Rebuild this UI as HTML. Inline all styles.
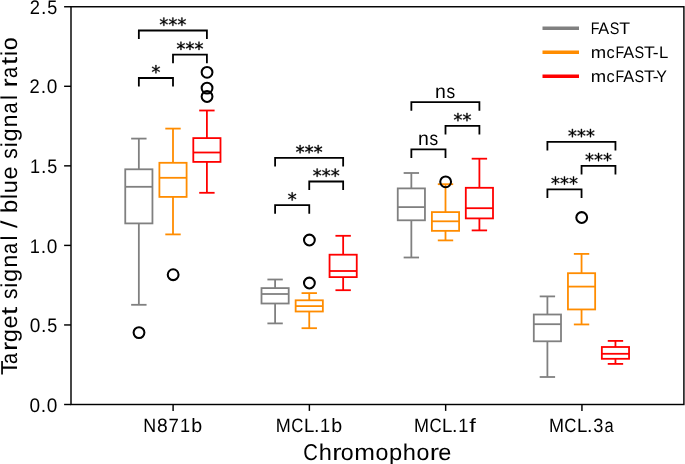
<!DOCTYPE html>
<html><head><meta charset="utf-8"><style>
html,body{margin:0;padding:0;background:#fff;}
svg{display:block;will-change:transform;}
text{font-family:"Liberation Sans",sans-serif;fill:#000;text-rendering:geometricPrecision;}
</style></head><body>
<svg width="685" height="464" viewBox="0 0 685 464">
<rect width="685" height="464" fill="#fff"/>
<line x1="64.10" y1="404.50" x2="71.00" y2="404.50" stroke="#000" stroke-width="1.44" stroke-linecap="butt"/>
<text y="411.60" font-size="19.69"><tspan x="29.47" textLength="10.59" lengthAdjust="spacingAndGlyphs">0</tspan><tspan x="40.67" textLength="5.43" lengthAdjust="spacingAndGlyphs">.</tspan><tspan x="46.71" textLength="10.59" lengthAdjust="spacingAndGlyphs">0</tspan></text>
<line x1="64.10" y1="324.95" x2="71.00" y2="324.95" stroke="#000" stroke-width="1.44" stroke-linecap="butt"/>
<text y="332.05" font-size="19.69"><tspan x="29.85" textLength="10.59" lengthAdjust="spacingAndGlyphs">0</tspan><tspan x="41.04" textLength="5.43" lengthAdjust="spacingAndGlyphs">.</tspan><tspan x="47.31" textLength="9.99" lengthAdjust="spacingAndGlyphs">5</tspan></text>
<line x1="64.10" y1="245.40" x2="71.00" y2="245.40" stroke="#000" stroke-width="1.44" stroke-linecap="butt"/>
<text y="252.50" font-size="19.69"><tspan x="29.63" textLength="10.11" lengthAdjust="spacingAndGlyphs">1</tspan><tspan x="40.67" textLength="5.43" lengthAdjust="spacingAndGlyphs">.</tspan><tspan x="46.71" textLength="10.59" lengthAdjust="spacingAndGlyphs">0</tspan></text>
<line x1="64.10" y1="165.85" x2="71.00" y2="165.85" stroke="#000" stroke-width="1.44" stroke-linecap="butt"/>
<text y="172.95" font-size="19.69"><tspan x="30.01" textLength="10.11" lengthAdjust="spacingAndGlyphs">1</tspan><tspan x="41.04" textLength="5.43" lengthAdjust="spacingAndGlyphs">.</tspan><tspan x="47.31" textLength="9.99" lengthAdjust="spacingAndGlyphs">5</tspan></text>
<line x1="64.10" y1="86.30" x2="71.00" y2="86.30" stroke="#000" stroke-width="1.44" stroke-linecap="butt"/>
<text y="93.40" font-size="19.69"><tspan x="29.43" textLength="10.21" lengthAdjust="spacingAndGlyphs">2</tspan><tspan x="40.67" textLength="5.43" lengthAdjust="spacingAndGlyphs">.</tspan><tspan x="46.71" textLength="10.59" lengthAdjust="spacingAndGlyphs">0</tspan></text>
<line x1="64.10" y1="6.75" x2="71.00" y2="6.75" stroke="#000" stroke-width="1.44" stroke-linecap="butt"/>
<text y="13.85" font-size="19.69"><tspan x="29.81" textLength="10.21" lengthAdjust="spacingAndGlyphs">2</tspan><tspan x="41.04" textLength="5.43" lengthAdjust="spacingAndGlyphs">.</tspan><tspan x="47.31" textLength="9.99" lengthAdjust="spacingAndGlyphs">5</tspan></text>
<line x1="173.10" y1="404.50" x2="173.10" y2="410.90" stroke="#000" stroke-width="1.44" stroke-linecap="butt"/>
<text y="431.80" font-size="19.32"><tspan x="143.29" textLength="12.88" lengthAdjust="spacingAndGlyphs">N</tspan><tspan x="156.88" textLength="10.70" lengthAdjust="spacingAndGlyphs">8</tspan><tspan x="168.51" textLength="10.36" lengthAdjust="spacingAndGlyphs">7</tspan><tspan x="180.07" textLength="10.11" lengthAdjust="spacingAndGlyphs">1</tspan><tspan x="191.34" textLength="10.93" lengthAdjust="spacingAndGlyphs">b</tspan></text>
<line x1="309.38" y1="404.50" x2="309.38" y2="410.90" stroke="#000" stroke-width="1.44" stroke-linecap="butt"/>
<text y="431.80" font-size="19.32"><tspan x="275.81" textLength="15.00" lengthAdjust="spacingAndGlyphs">M</tspan><tspan x="291.26" textLength="12.11" lengthAdjust="spacingAndGlyphs">C</tspan><tspan x="303.95" textLength="10.33" lengthAdjust="spacingAndGlyphs">L</tspan><tspan x="313.91" textLength="5.43" lengthAdjust="spacingAndGlyphs">.</tspan><tspan x="320.11" textLength="10.11" lengthAdjust="spacingAndGlyphs">1</tspan><tspan x="331.37" textLength="10.93" lengthAdjust="spacingAndGlyphs">b</tspan></text>
<line x1="445.66" y1="404.50" x2="445.66" y2="410.90" stroke="#000" stroke-width="1.44" stroke-linecap="butt"/>
<text y="431.80" font-size="19.32"><tspan x="413.98" textLength="15.00" lengthAdjust="spacingAndGlyphs">M</tspan><tspan x="429.43" textLength="12.11" lengthAdjust="spacingAndGlyphs">C</tspan><tspan x="442.12" textLength="10.33" lengthAdjust="spacingAndGlyphs">L</tspan><tspan x="452.08" textLength="5.43" lengthAdjust="spacingAndGlyphs">.</tspan><tspan x="458.27" textLength="10.11" lengthAdjust="spacingAndGlyphs">1</tspan><tspan x="469.24" textLength="6.59" lengthAdjust="spacingAndGlyphs">f</tspan></text>
<line x1="581.94" y1="404.50" x2="581.94" y2="410.90" stroke="#000" stroke-width="1.44" stroke-linecap="butt"/>
<text y="431.80" font-size="19.32"><tspan x="548.89" textLength="15.00" lengthAdjust="spacingAndGlyphs">M</tspan><tspan x="564.34" textLength="12.11" lengthAdjust="spacingAndGlyphs">C</tspan><tspan x="577.04" textLength="10.33" lengthAdjust="spacingAndGlyphs">L</tspan><tspan x="587.00" textLength="5.43" lengthAdjust="spacingAndGlyphs">.</tspan><tspan x="593.27" textLength="10.17" lengthAdjust="spacingAndGlyphs">3</tspan><tspan x="604.42" textLength="9.14" lengthAdjust="spacingAndGlyphs">a</tspan></text>
<text y="459.70" font-size="22.89"><tspan x="303.30" textLength="14.61" lengthAdjust="spacingAndGlyphs">C</tspan><tspan x="318.67" textLength="13.16" lengthAdjust="spacingAndGlyphs">h</tspan><tspan x="332.27" textLength="9.30" lengthAdjust="spacingAndGlyphs">r</tspan><tspan x="340.86" textLength="12.89" lengthAdjust="spacingAndGlyphs">o</tspan><tspan x="354.30" textLength="20.69" lengthAdjust="spacingAndGlyphs">m</tspan><tspan x="375.43" textLength="12.89" lengthAdjust="spacingAndGlyphs">o</tspan><tspan x="388.99" textLength="13.19" lengthAdjust="spacingAndGlyphs">p</tspan><tspan x="402.72" textLength="13.16" lengthAdjust="spacingAndGlyphs">h</tspan><tspan x="416.42" textLength="12.89" lengthAdjust="spacingAndGlyphs">o</tspan><tspan x="429.66" textLength="9.30" lengthAdjust="spacingAndGlyphs">r</tspan><tspan x="438.22" textLength="13.10" lengthAdjust="spacingAndGlyphs">e</tspan></text>
<text transform="translate(16.50,374.40) rotate(-90)" y="0" font-size="23.00"><tspan x="-0.54" textLength="14.59" lengthAdjust="spacingAndGlyphs">T</tspan><tspan x="10.30" textLength="10.95" lengthAdjust="spacingAndGlyphs">a</tspan><tspan x="23.36" textLength="9.34" lengthAdjust="spacingAndGlyphs">r</tspan><tspan x="32.06" textLength="13.24" lengthAdjust="spacingAndGlyphs">g</tspan><tspan x="45.96" textLength="13.16" lengthAdjust="spacingAndGlyphs">e</tspan><tspan x="59.38" textLength="8.13" lengthAdjust="spacingAndGlyphs">t</tspan><tspan x="67.82"> </tspan><tspan x="75.38" textLength="10.50" lengthAdjust="spacingAndGlyphs">s</tspan><tspan x="86.75" textLength="4.97" lengthAdjust="spacingAndGlyphs">i</tspan><tspan x="92.48" textLength="13.24" lengthAdjust="spacingAndGlyphs">g</tspan><tspan x="106.60" textLength="13.13" lengthAdjust="spacingAndGlyphs">n</tspan><tspan x="120.53" textLength="10.95" lengthAdjust="spacingAndGlyphs">a</tspan><tspan x="134.03" textLength="4.97" lengthAdjust="spacingAndGlyphs">l</tspan><tspan x="139.56"> </tspan><tspan x="146.52" textLength="7.38" lengthAdjust="spacingAndGlyphs">/</tspan><tspan x="153.90"> </tspan><tspan x="161.31" textLength="13.25" lengthAdjust="spacingAndGlyphs">b</tspan><tspan x="175.32" textLength="4.97" lengthAdjust="spacingAndGlyphs">l</tspan><tspan x="181.17" textLength="13.13" lengthAdjust="spacingAndGlyphs">u</tspan><tspan x="194.93" textLength="13.16" lengthAdjust="spacingAndGlyphs">e</tspan><tspan x="208.20"> </tspan><tspan x="215.76" textLength="10.50" lengthAdjust="spacingAndGlyphs">s</tspan><tspan x="227.14" textLength="4.97" lengthAdjust="spacingAndGlyphs">i</tspan><tspan x="232.86" textLength="13.24" lengthAdjust="spacingAndGlyphs">g</tspan><tspan x="246.98" textLength="13.13" lengthAdjust="spacingAndGlyphs">n</tspan><tspan x="260.92" textLength="10.95" lengthAdjust="spacingAndGlyphs">a</tspan><tspan x="274.41" textLength="4.97" lengthAdjust="spacingAndGlyphs">l</tspan><tspan x="279.94"> </tspan><tspan x="287.03" textLength="9.34" lengthAdjust="spacingAndGlyphs">r</tspan><tspan x="296.39" textLength="10.95" lengthAdjust="spacingAndGlyphs">a</tspan><tspan x="309.47" textLength="8.13" lengthAdjust="spacingAndGlyphs">t</tspan><tspan x="318.48" textLength="4.97" lengthAdjust="spacingAndGlyphs">i</tspan><tspan x="324.23" textLength="12.95" lengthAdjust="spacingAndGlyphs">o</tspan></text>
<line x1="138.85" y1="169.30" x2="138.85" y2="138.60" stroke="#808080" stroke-width="1.8" stroke-linecap="butt"/>
<line x1="138.85" y1="223.40" x2="138.85" y2="304.80" stroke="#808080" stroke-width="1.8" stroke-linecap="butt"/>
<line x1="132.05" y1="138.60" x2="145.65" y2="138.60" stroke="#808080" stroke-width="1.8" stroke-linecap="square"/>
<line x1="132.05" y1="304.80" x2="145.65" y2="304.80" stroke="#808080" stroke-width="1.8" stroke-linecap="square"/>
<rect x="125.25" y="169.30" width="27.20" height="54.10" fill="none" stroke="#808080" stroke-width="1.8"/>
<line x1="125.25" y1="186.80" x2="152.45" y2="186.80" stroke="#808080" stroke-width="1.8" stroke-linecap="butt"/>
<circle cx="139.00" cy="332.60" r="5.4" fill="none" stroke="#000" stroke-width="2.05"/>
<line x1="173.00" y1="162.80" x2="173.00" y2="128.60" stroke="#ff8c00" stroke-width="1.8" stroke-linecap="butt"/>
<line x1="173.00" y1="196.90" x2="173.00" y2="234.40" stroke="#ff8c00" stroke-width="1.8" stroke-linecap="butt"/>
<line x1="166.20" y1="128.60" x2="179.80" y2="128.60" stroke="#ff8c00" stroke-width="1.8" stroke-linecap="square"/>
<line x1="166.20" y1="234.40" x2="179.80" y2="234.40" stroke="#ff8c00" stroke-width="1.8" stroke-linecap="square"/>
<rect x="159.40" y="162.80" width="27.20" height="34.10" fill="none" stroke="#ff8c00" stroke-width="1.8"/>
<line x1="159.40" y1="177.80" x2="186.60" y2="177.80" stroke="#ff8c00" stroke-width="1.8" stroke-linecap="butt"/>
<circle cx="173.15" cy="274.70" r="5.4" fill="none" stroke="#000" stroke-width="2.05"/>
<line x1="206.90" y1="138.10" x2="206.90" y2="110.50" stroke="#ff0000" stroke-width="1.8" stroke-linecap="butt"/>
<line x1="206.90" y1="161.90" x2="206.90" y2="192.80" stroke="#ff0000" stroke-width="1.8" stroke-linecap="butt"/>
<line x1="200.10" y1="110.50" x2="213.70" y2="110.50" stroke="#ff0000" stroke-width="1.8" stroke-linecap="square"/>
<line x1="200.10" y1="192.80" x2="213.70" y2="192.80" stroke="#ff0000" stroke-width="1.8" stroke-linecap="square"/>
<rect x="193.30" y="138.10" width="27.20" height="23.80" fill="none" stroke="#ff0000" stroke-width="1.8"/>
<line x1="193.30" y1="152.50" x2="220.50" y2="152.50" stroke="#ff0000" stroke-width="1.8" stroke-linecap="butt"/>
<circle cx="207.05" cy="72.30" r="5.4" fill="none" stroke="#000" stroke-width="2.05"/>
<circle cx="207.05" cy="88.10" r="5.4" fill="none" stroke="#000" stroke-width="2.05"/>
<circle cx="207.05" cy="96.50" r="5.4" fill="none" stroke="#000" stroke-width="2.05"/>
<line x1="275.10" y1="288.10" x2="275.10" y2="279.50" stroke="#808080" stroke-width="1.8" stroke-linecap="butt"/>
<line x1="275.10" y1="303.50" x2="275.10" y2="323.40" stroke="#808080" stroke-width="1.8" stroke-linecap="butt"/>
<line x1="268.30" y1="279.50" x2="281.90" y2="279.50" stroke="#808080" stroke-width="1.8" stroke-linecap="square"/>
<line x1="268.30" y1="323.40" x2="281.90" y2="323.40" stroke="#808080" stroke-width="1.8" stroke-linecap="square"/>
<rect x="261.50" y="288.10" width="27.20" height="15.40" fill="none" stroke="#808080" stroke-width="1.8"/>
<line x1="261.50" y1="294.00" x2="288.70" y2="294.00" stroke="#808080" stroke-width="1.8" stroke-linecap="butt"/>
<line x1="309.25" y1="300.30" x2="309.25" y2="293.10" stroke="#ff8c00" stroke-width="1.8" stroke-linecap="butt"/>
<line x1="309.25" y1="311.50" x2="309.25" y2="328.20" stroke="#ff8c00" stroke-width="1.8" stroke-linecap="butt"/>
<line x1="302.45" y1="293.10" x2="316.05" y2="293.10" stroke="#ff8c00" stroke-width="1.8" stroke-linecap="square"/>
<line x1="302.45" y1="328.20" x2="316.05" y2="328.20" stroke="#ff8c00" stroke-width="1.8" stroke-linecap="square"/>
<rect x="295.65" y="300.30" width="27.20" height="11.20" fill="none" stroke="#ff8c00" stroke-width="1.8"/>
<line x1="295.65" y1="306.10" x2="322.85" y2="306.10" stroke="#ff8c00" stroke-width="1.8" stroke-linecap="butt"/>
<circle cx="309.40" cy="240.00" r="5.4" fill="none" stroke="#000" stroke-width="2.05"/>
<circle cx="309.40" cy="283.00" r="5.4" fill="none" stroke="#000" stroke-width="2.05"/>
<line x1="343.15" y1="254.70" x2="343.15" y2="235.80" stroke="#ff0000" stroke-width="1.8" stroke-linecap="butt"/>
<line x1="343.15" y1="277.10" x2="343.15" y2="290.20" stroke="#ff0000" stroke-width="1.8" stroke-linecap="butt"/>
<line x1="336.35" y1="235.80" x2="349.95" y2="235.80" stroke="#ff0000" stroke-width="1.8" stroke-linecap="square"/>
<line x1="336.35" y1="290.20" x2="349.95" y2="290.20" stroke="#ff0000" stroke-width="1.8" stroke-linecap="square"/>
<rect x="329.55" y="254.70" width="27.20" height="22.40" fill="none" stroke="#ff0000" stroke-width="1.8"/>
<line x1="329.55" y1="271.00" x2="356.75" y2="271.00" stroke="#ff0000" stroke-width="1.8" stroke-linecap="butt"/>
<line x1="411.35" y1="188.40" x2="411.35" y2="173.00" stroke="#808080" stroke-width="1.8" stroke-linecap="butt"/>
<line x1="411.35" y1="220.30" x2="411.35" y2="257.50" stroke="#808080" stroke-width="1.8" stroke-linecap="butt"/>
<line x1="404.55" y1="173.00" x2="418.15" y2="173.00" stroke="#808080" stroke-width="1.8" stroke-linecap="square"/>
<line x1="404.55" y1="257.50" x2="418.15" y2="257.50" stroke="#808080" stroke-width="1.8" stroke-linecap="square"/>
<rect x="397.75" y="188.40" width="27.20" height="31.90" fill="none" stroke="#808080" stroke-width="1.8"/>
<line x1="397.75" y1="207.10" x2="424.95" y2="207.10" stroke="#808080" stroke-width="1.8" stroke-linecap="butt"/>
<line x1="445.50" y1="212.10" x2="445.50" y2="184.20" stroke="#ff8c00" stroke-width="1.8" stroke-linecap="butt"/>
<line x1="445.50" y1="230.85" x2="445.50" y2="240.40" stroke="#ff8c00" stroke-width="1.8" stroke-linecap="butt"/>
<line x1="438.70" y1="184.20" x2="452.30" y2="184.20" stroke="#ff8c00" stroke-width="1.8" stroke-linecap="square"/>
<line x1="438.70" y1="240.40" x2="452.30" y2="240.40" stroke="#ff8c00" stroke-width="1.8" stroke-linecap="square"/>
<rect x="431.90" y="212.10" width="27.20" height="18.75" fill="none" stroke="#ff8c00" stroke-width="1.8"/>
<line x1="431.90" y1="221.30" x2="459.10" y2="221.30" stroke="#ff8c00" stroke-width="1.8" stroke-linecap="butt"/>
<circle cx="445.65" cy="181.80" r="5.4" fill="none" stroke="#000" stroke-width="2.05"/>
<line x1="479.40" y1="187.80" x2="479.40" y2="158.70" stroke="#ff0000" stroke-width="1.8" stroke-linecap="butt"/>
<line x1="479.40" y1="218.40" x2="479.40" y2="230.40" stroke="#ff0000" stroke-width="1.8" stroke-linecap="butt"/>
<line x1="472.60" y1="158.70" x2="486.20" y2="158.70" stroke="#ff0000" stroke-width="1.8" stroke-linecap="square"/>
<line x1="472.60" y1="230.40" x2="486.20" y2="230.40" stroke="#ff0000" stroke-width="1.8" stroke-linecap="square"/>
<rect x="465.80" y="187.80" width="27.20" height="30.60" fill="none" stroke="#ff0000" stroke-width="1.8"/>
<line x1="465.80" y1="208.20" x2="493.00" y2="208.20" stroke="#ff0000" stroke-width="1.8" stroke-linecap="butt"/>
<line x1="547.40" y1="314.50" x2="547.40" y2="296.40" stroke="#808080" stroke-width="1.8" stroke-linecap="butt"/>
<line x1="547.40" y1="341.30" x2="547.40" y2="377.00" stroke="#808080" stroke-width="1.8" stroke-linecap="butt"/>
<line x1="540.60" y1="296.40" x2="554.20" y2="296.40" stroke="#808080" stroke-width="1.8" stroke-linecap="square"/>
<line x1="540.60" y1="377.00" x2="554.20" y2="377.00" stroke="#808080" stroke-width="1.8" stroke-linecap="square"/>
<rect x="533.80" y="314.50" width="27.20" height="26.80" fill="none" stroke="#808080" stroke-width="1.8"/>
<line x1="533.80" y1="324.20" x2="561.00" y2="324.20" stroke="#808080" stroke-width="1.8" stroke-linecap="butt"/>
<line x1="581.55" y1="273.20" x2="581.55" y2="253.90" stroke="#ff8c00" stroke-width="1.8" stroke-linecap="butt"/>
<line x1="581.55" y1="309.45" x2="581.55" y2="324.45" stroke="#ff8c00" stroke-width="1.8" stroke-linecap="butt"/>
<line x1="574.75" y1="253.90" x2="588.35" y2="253.90" stroke="#ff8c00" stroke-width="1.8" stroke-linecap="square"/>
<line x1="574.75" y1="324.45" x2="588.35" y2="324.45" stroke="#ff8c00" stroke-width="1.8" stroke-linecap="square"/>
<rect x="567.95" y="273.20" width="27.20" height="36.25" fill="none" stroke="#ff8c00" stroke-width="1.8"/>
<line x1="567.95" y1="286.60" x2="595.15" y2="286.60" stroke="#ff8c00" stroke-width="1.8" stroke-linecap="butt"/>
<circle cx="581.70" cy="217.50" r="5.4" fill="none" stroke="#000" stroke-width="2.05"/>
<line x1="615.45" y1="347.00" x2="615.45" y2="340.90" stroke="#ff0000" stroke-width="1.8" stroke-linecap="butt"/>
<line x1="615.45" y1="358.80" x2="615.45" y2="363.90" stroke="#ff0000" stroke-width="1.8" stroke-linecap="butt"/>
<line x1="608.65" y1="340.90" x2="622.25" y2="340.90" stroke="#ff0000" stroke-width="1.8" stroke-linecap="square"/>
<line x1="608.65" y1="363.90" x2="622.25" y2="363.90" stroke="#ff0000" stroke-width="1.8" stroke-linecap="square"/>
<rect x="601.85" y="347.00" width="27.20" height="11.80" fill="none" stroke="#ff0000" stroke-width="1.8"/>
<line x1="601.85" y1="353.80" x2="629.05" y2="353.80" stroke="#ff0000" stroke-width="1.8" stroke-linecap="butt"/>
<path d="M138.85,86.60V78.00H173.00V86.60" fill="none" stroke="#000" stroke-width="1.8"/>
<path transform="translate(151.41,78.52) scale(0.00882,-0.00882)" d="M963 1247 604 1053 963 858 905 760 569 963V586H455V963L119 760L61 858L420 1053L61 1247L119 1346L455 1143V1520H569V1143L905 1346Z" stroke="#000" stroke-width="40"/>
<path d="M173.00,63.20V54.60H206.90V63.20" fill="none" stroke="#000" stroke-width="1.8"/>
<path transform="translate(176.41,55.12) scale(0.00882,-0.00882)" d="M963 1247 604 1053 963 858 905 760 569 963V586H455V963L119 760L61 858L420 1053L61 1247L119 1346L455 1143V1520H569V1143L905 1346Z" stroke="#000" stroke-width="40"/>
<path transform="translate(185.44,55.12) scale(0.00882,-0.00882)" d="M963 1247 604 1053 963 858 905 760 569 963V586H455V963L119 760L61 858L420 1053L61 1247L119 1346L455 1143V1520H569V1143L905 1346Z" stroke="#000" stroke-width="40"/>
<path transform="translate(194.47,55.12) scale(0.00882,-0.00882)" d="M963 1247 604 1053 963 858 905 760 569 963V586H455V963L119 760L61 858L420 1053L61 1247L119 1346L455 1143V1520H569V1143L905 1346Z" stroke="#000" stroke-width="40"/>
<path d="M138.85,39.10V30.50H206.90V39.10" fill="none" stroke="#000" stroke-width="1.8"/>
<path transform="translate(159.33,31.02) scale(0.00882,-0.00882)" d="M963 1247 604 1053 963 858 905 760 569 963V586H455V963L119 760L61 858L420 1053L61 1247L119 1346L455 1143V1520H569V1143L905 1346Z" stroke="#000" stroke-width="40"/>
<path transform="translate(168.36,31.02) scale(0.00882,-0.00882)" d="M963 1247 604 1053 963 858 905 760 569 963V586H455V963L119 760L61 858L420 1053L61 1247L119 1346L455 1143V1520H569V1143L905 1346Z" stroke="#000" stroke-width="40"/>
<path transform="translate(177.39,31.02) scale(0.00882,-0.00882)" d="M963 1247 604 1053 963 858 905 760 569 963V586H455V963L119 760L61 858L420 1053L61 1247L119 1346L455 1143V1520H569V1143L905 1346Z" stroke="#000" stroke-width="40"/>
<path d="M275.10,213.80V205.20H309.25V213.80" fill="none" stroke="#000" stroke-width="1.8"/>
<path transform="translate(287.66,205.72) scale(0.00882,-0.00882)" d="M963 1247 604 1053 963 858 905 760 569 963V586H455V963L119 760L61 858L420 1053L61 1247L119 1346L455 1143V1520H569V1143L905 1346Z" stroke="#000" stroke-width="40"/>
<path d="M309.25,190.10V181.50H343.15V190.10" fill="none" stroke="#000" stroke-width="1.8"/>
<path transform="translate(312.65,182.02) scale(0.00882,-0.00882)" d="M963 1247 604 1053 963 858 905 760 569 963V586H455V963L119 760L61 858L420 1053L61 1247L119 1346L455 1143V1520H569V1143L905 1346Z" stroke="#000" stroke-width="40"/>
<path transform="translate(321.68,182.02) scale(0.00882,-0.00882)" d="M963 1247 604 1053 963 858 905 760 569 963V586H455V963L119 760L61 858L420 1053L61 1247L119 1346L455 1143V1520H569V1143L905 1346Z" stroke="#000" stroke-width="40"/>
<path transform="translate(330.71,182.02) scale(0.00882,-0.00882)" d="M963 1247 604 1053 963 858 905 760 569 963V586H455V963L119 760L61 858L420 1053L61 1247L119 1346L455 1143V1520H569V1143L905 1346Z" stroke="#000" stroke-width="40"/>
<path d="M275.10,166.50V157.90H343.15V166.50" fill="none" stroke="#000" stroke-width="1.8"/>
<path transform="translate(295.58,158.42) scale(0.00882,-0.00882)" d="M963 1247 604 1053 963 858 905 760 569 963V586H455V963L119 760L61 858L420 1053L61 1247L119 1346L455 1143V1520H569V1143L905 1346Z" stroke="#000" stroke-width="40"/>
<path transform="translate(304.61,158.42) scale(0.00882,-0.00882)" d="M963 1247 604 1053 963 858 905 760 569 963V586H455V963L119 760L61 858L420 1053L61 1247L119 1346L455 1143V1520H569V1143L905 1346Z" stroke="#000" stroke-width="40"/>
<path transform="translate(313.64,158.42) scale(0.00882,-0.00882)" d="M963 1247 604 1053 963 858 905 760 569 963V586H455V963L119 760L61 858L420 1053L61 1247L119 1346L455 1143V1520H569V1143L905 1346Z" stroke="#000" stroke-width="40"/>
<path d="M411.35,157.90V149.30H445.50V157.90" fill="none" stroke="#000" stroke-width="1.8"/>
<text y="144.99" font-size="19.50"><tspan x="417.97" textLength="10.83" lengthAdjust="spacingAndGlyphs">n</tspan><tspan x="429.56" textLength="8.66" lengthAdjust="spacingAndGlyphs">s</tspan></text>
<path d="M445.50,134.40V125.80H479.40V134.40" fill="none" stroke="#000" stroke-width="1.8"/>
<path transform="translate(453.42,126.32) scale(0.00882,-0.00882)" d="M963 1247 604 1053 963 858 905 760 569 963V586H455V963L119 760L61 858L420 1053L61 1247L119 1346L455 1143V1520H569V1143L905 1346Z" stroke="#000" stroke-width="40"/>
<path transform="translate(462.45,126.32) scale(0.00882,-0.00882)" d="M963 1247 604 1053 963 858 905 760 569 963V586H455V963L119 760L61 858L420 1053L61 1247L119 1346L455 1143V1520H569V1143L905 1346Z" stroke="#000" stroke-width="40"/>
<path d="M411.35,110.80V102.20H479.40V110.80" fill="none" stroke="#000" stroke-width="1.8"/>
<text y="97.89" font-size="19.50"><tspan x="434.92" textLength="10.83" lengthAdjust="spacingAndGlyphs">n</tspan><tspan x="446.51" textLength="8.66" lengthAdjust="spacingAndGlyphs">s</tspan></text>
<path d="M547.40,197.90V189.30H581.55V197.90" fill="none" stroke="#000" stroke-width="1.8"/>
<path transform="translate(550.93,189.82) scale(0.00882,-0.00882)" d="M963 1247 604 1053 963 858 905 760 569 963V586H455V963L119 760L61 858L420 1053L61 1247L119 1346L455 1143V1520H569V1143L905 1346Z" stroke="#000" stroke-width="40"/>
<path transform="translate(559.96,189.82) scale(0.00882,-0.00882)" d="M963 1247 604 1053 963 858 905 760 569 963V586H455V963L119 760L61 858L420 1053L61 1247L119 1346L455 1143V1520H569V1143L905 1346Z" stroke="#000" stroke-width="40"/>
<path transform="translate(568.99,189.82) scale(0.00882,-0.00882)" d="M963 1247 604 1053 963 858 905 760 569 963V586H455V963L119 760L61 858L420 1053L61 1247L119 1346L455 1143V1520H569V1143L905 1346Z" stroke="#000" stroke-width="40"/>
<path d="M581.55,174.40V165.80H615.45V174.40" fill="none" stroke="#000" stroke-width="1.8"/>
<path transform="translate(584.96,166.32) scale(0.00882,-0.00882)" d="M963 1247 604 1053 963 858 905 760 569 963V586H455V963L119 760L61 858L420 1053L61 1247L119 1346L455 1143V1520H569V1143L905 1346Z" stroke="#000" stroke-width="40"/>
<path transform="translate(593.99,166.32) scale(0.00882,-0.00882)" d="M963 1247 604 1053 963 858 905 760 569 963V586H455V963L119 760L61 858L420 1053L61 1247L119 1346L455 1143V1520H569V1143L905 1346Z" stroke="#000" stroke-width="40"/>
<path transform="translate(603.01,166.32) scale(0.00882,-0.00882)" d="M963 1247 604 1053 963 858 905 760 569 963V586H455V963L119 760L61 858L420 1053L61 1247L119 1346L455 1143V1520H569V1143L905 1346Z" stroke="#000" stroke-width="40"/>
<path d="M547.40,150.40V141.80H615.45V150.40" fill="none" stroke="#000" stroke-width="1.8"/>
<path transform="translate(567.88,142.32) scale(0.00882,-0.00882)" d="M963 1247 604 1053 963 858 905 760 569 963V586H455V963L119 760L61 858L420 1053L61 1247L119 1346L455 1143V1520H569V1143L905 1346Z" stroke="#000" stroke-width="40"/>
<path transform="translate(576.91,142.32) scale(0.00882,-0.00882)" d="M963 1247 604 1053 963 858 905 760 569 963V586H455V963L119 760L61 858L420 1053L61 1247L119 1346L455 1143V1520H569V1143L905 1346Z" stroke="#000" stroke-width="40"/>
<path transform="translate(585.94,142.32) scale(0.00882,-0.00882)" d="M963 1247 604 1053 963 858 905 760 569 963V586H455V963L119 760L61 858L420 1053L61 1247L119 1346L455 1143V1520H569V1143L905 1346Z" stroke="#000" stroke-width="40"/>
<rect x="71.00" y="6.75" width="612.90" height="397.75" fill="none" stroke="#000" stroke-width="1.44"/>
<line x1="542.50" y1="28.20" x2="579.00" y2="28.20" stroke="#808080" stroke-width="3.5" stroke-linecap="butt"/>
<text y="34.00" font-size="16.69"><tspan x="590.76" textLength="8.66" lengthAdjust="spacingAndGlyphs">F</tspan><tspan x="598.34" textLength="10.88" lengthAdjust="spacingAndGlyphs">A</tspan><tspan x="609.74" textLength="9.63" lengthAdjust="spacingAndGlyphs">S</tspan><tspan x="619.16" textLength="10.79" lengthAdjust="spacingAndGlyphs">T</tspan></text>
<line x1="542.50" y1="52.18" x2="579.00" y2="52.18" stroke="#ff8c00" stroke-width="3.5" stroke-linecap="butt"/>
<text y="58.20" font-size="16.69"><tspan x="590.77" textLength="15.38" lengthAdjust="spacingAndGlyphs">m</tspan><tspan x="606.51" textLength="8.13" lengthAdjust="spacingAndGlyphs">c</tspan><tspan x="615.57" textLength="8.66" lengthAdjust="spacingAndGlyphs">F</tspan><tspan x="623.14" textLength="10.88" lengthAdjust="spacingAndGlyphs">A</tspan><tspan x="634.54" textLength="9.63" lengthAdjust="spacingAndGlyphs">S</tspan><tspan x="643.97" textLength="10.79" lengthAdjust="spacingAndGlyphs">T</tspan><tspan x="652.84" textLength="5.82" lengthAdjust="spacingAndGlyphs">-</tspan><tspan x="658.89" textLength="9.27" lengthAdjust="spacingAndGlyphs">L</tspan></text>
<line x1="542.50" y1="76.16" x2="579.00" y2="76.16" stroke="#ff0000" stroke-width="3.5" stroke-linecap="butt"/>
<text y="82.00" font-size="16.69"><tspan x="590.77" textLength="15.38" lengthAdjust="spacingAndGlyphs">m</tspan><tspan x="606.51" textLength="8.13" lengthAdjust="spacingAndGlyphs">c</tspan><tspan x="615.57" textLength="8.66" lengthAdjust="spacingAndGlyphs">F</tspan><tspan x="623.14" textLength="10.88" lengthAdjust="spacingAndGlyphs">A</tspan><tspan x="634.54" textLength="9.63" lengthAdjust="spacingAndGlyphs">S</tspan><tspan x="643.97" textLength="10.79" lengthAdjust="spacingAndGlyphs">T</tspan><tspan x="652.84" textLength="5.82" lengthAdjust="spacingAndGlyphs">-</tspan><tspan x="656.36" textLength="10.66" lengthAdjust="spacingAndGlyphs">Y</tspan></text>
</svg>
</body></html>
